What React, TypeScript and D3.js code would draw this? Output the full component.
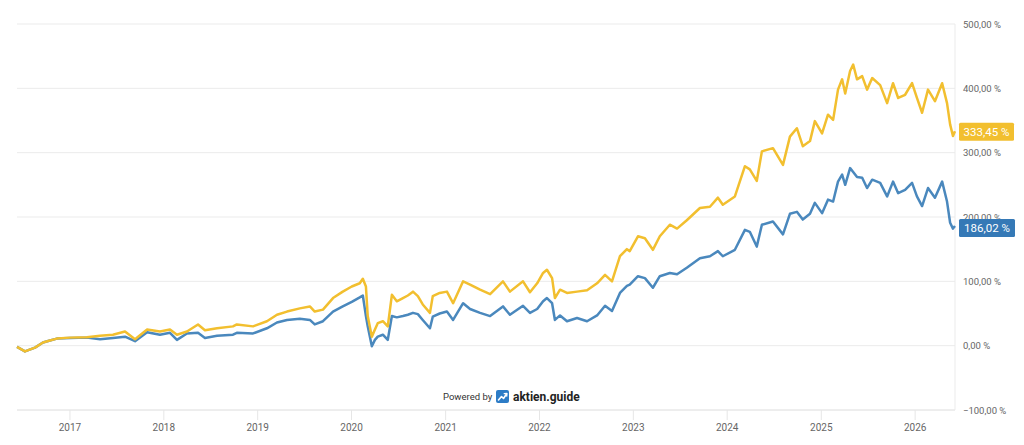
import React from 'react';
import * as d3 from 'd3';

const dates = [
  '2016-06-09', '2016-07-10', '2016-08-18', '2016-09-18', '2016-10-15', '2016-11-11',
  '2017-01-01', '2017-03-08', '2017-04-28', '2017-06-17', '2017-08-03', '2017-09-11',
  '2017-10-28', '2017-12-17', '2018-01-25', '2018-02-21', '2018-04-01', '2018-05-14',
  '2018-06-10', '2018-07-27', '2018-09-27', '2018-10-12', '2018-12-14', '2019-02-06',
  '2019-03-17', '2019-04-25', '2019-06-14', '2019-07-23', '2019-08-11', '2019-09-12',
  '2019-10-21', '2019-11-28', '2020-01-02', '2020-02-02', '2020-02-14', '2020-02-26',
  '2020-03-04', '2020-03-20', '2020-04-01', '2020-04-12', '2020-05-02', '2020-05-21',
  '2020-06-06', '2020-06-25', '2020-07-19', '2020-08-07', '2020-08-27', '2020-09-15',
  '2020-10-04', '2020-11-01', '2020-11-12', '2020-12-09', '2021-01-06', '2021-01-30',
  '2021-03-10', '2021-04-06', '2021-05-15', '2021-06-23', '2021-08-12', '2021-09-08',
  '2021-10-29', '2021-11-25', '2021-12-23', '2022-01-15', '2022-01-30', '2022-02-19',
  '2022-03-02', '2022-03-22', '2022-04-18', '2022-05-27', '2022-07-05', '2022-08-13',
  '2022-09-13', '2022-10-10', '2022-11-10', '2022-12-07', '2022-12-18', '2023-01-19',
  '2023-02-15', '2023-03-18', '2023-04-14', '2023-05-23', '2023-06-20', '2023-07-28',
  '2023-09-17', '2023-10-26', '2023-11-26', '2023-12-15', '2024-01-31', '2024-03-10',
  '2024-03-29', '2024-04-25', '2024-05-15', '2024-06-27', '2024-08-05', '2024-09-01',
  '2024-09-28', '2024-10-21', '2024-11-18', '2024-12-07', '2025-01-04', '2025-01-27',
  '2025-02-16', '2025-03-07', '2025-03-23', '2025-04-04', '2025-04-23', '2025-05-05',
  '2025-05-20', '2025-06-09', '2025-06-28', '2025-07-18', '2025-08-18', '2025-09-14',
  '2025-10-07', '2025-10-27', '2025-11-23', '2025-12-20', '2026-01-08', '2026-01-28',
  '2026-02-20', '2026-03-19', '2026-04-16', '2026-05-05', '2026-05-17', '2026-05-28',
  '2026-06-05',
];

// performance in %, yellow series
const goldValues = [
  -2, -9, -3, 5, 8, 11,
  12.5, 13, 15.5, 17, 22, 10,
  25, 22, 25, 17, 22, 33,
  24, 27, 30, 33, 30, 38,
  48, 53, 58, 61, 53, 56,
  74, 84, 92, 97, 104, 92,
  46, 14, 25, 35, 38, 30,
  79, 69, 74, 78, 84, 77,
  64, 51, 77, 82, 84, 66,
  100, 95, 87, 80, 100, 84,
  100, 83, 97, 113, 118, 105,
  74, 87, 82, 84, 86, 97,
  110, 100, 139, 150, 147, 170,
  167, 149, 170, 188, 182, 195,
  214, 216, 230, 219, 232, 279,
  274, 256, 302, 307, 281, 325,
  338, 310, 318, 349, 330, 359,
  351, 398, 414, 392, 427, 437,
  414, 419, 398, 416, 405, 377,
  408, 385, 390, 408, 385, 362,
  398, 380, 408, 377, 344, 326,
  333.45,
];

// performance in %, blue series
const blueValues = [
  -2, -9, -3, 5, 8, 11,
  12, 12.5, 10, 12, 14, 7,
  21, 17, 20, 9, 19, 20,
  12, 15.5, 17, 20, 19, 27,
  36, 40, 42, 40, 33, 38,
  53, 61, 68, 75, 78, 46,
  30, -1, 9, 14, 17, 9,
  46, 44, 46, 48, 51, 49,
  40, 27, 45, 50, 53, 40,
  66, 57, 51, 46, 61, 48,
  62, 51, 57, 69, 74, 66,
  40, 47, 38, 43, 38, 47,
  62, 54, 82, 93, 95, 108,
  105, 90, 108, 113, 111, 121,
  136, 139, 147, 139, 149, 180,
  177, 154, 188, 193, 173, 205,
  208, 196, 205, 222, 206, 227,
  224, 255, 266, 250, 276, 270,
  262, 261, 245, 258, 253, 232,
  255, 237, 242, 253, 232, 217,
  245, 230, 255, 224, 191, 182,
  186.02,
];

const yTicks = [-100, 0, 100, 200, 300, 400, 500];
const yearTicks = [2017, 2018, 2019, 2020, 2021, 2022, 2023, 2024, 2025, 2026];

const GOLD = '#f2bf2f';
const BLUE = '#4a88bd';
const FONT = 'Roboto, "Noto Sans", sans-serif';

const parse = d3.timeParse('%Y-%m-%d');
const fmt = (v: number) => d3.format('.2f')(v).replace('.', ',') + ' %';

export default function App() {
  const width = 1024;
  const height = 445;
  const left = 17;
  const right = 955;
  const top = 24;
  const bottom = 410;

  const parsed = dates.map((d) => parse(d) as Date);
  const x = d3.scaleTime()
    .domain([parsed[0], parsed[parsed.length - 1]])
    .range([left, right]);
  const y = d3.scaleLinear().domain([-100, 500]).range([bottom, top]);

  const line = d3.line<number>()
    .x((_, i) => x(parsed[i]))
    .y((v) => y(v));

  const lastGold = goldValues[goldValues.length - 1];
  const lastBlue = blueValues[blueValues.length - 1];

  return (
    <svg
      width={width}
      height={height}
      style={{ position: 'absolute', left: 0, top: 0, background: '#fff' }}
      fontFamily={FONT}
    >
      {/* grid */}
      {yTicks.map((t) => (
        <line key={t} x1={left} x2={right} y1={y(t)} y2={y(t)}
          stroke={t === -100 ? '#dcdcdc' : '#ebebeb'} strokeWidth={1} />
      ))}
      <line x1={right} x2={right} y1={top} y2={bottom} stroke="#ebebeb" />

      {/* x axis */}
      {yearTicks.map((yr) => {
        const xp = x(new Date(yr, 0, 1));
        return (
          <g key={yr}>
            <line x1={xp} x2={xp} y1={bottom} y2={bottom + 10} stroke="#e6e6e6" />
            <text x={xp} y={431} fontSize={10} fill="#666" textAnchor="middle">{yr}</text>
          </g>
        );
      })}

      {/* y axis labels */}
      {yTicks.map((t) => (
        <text key={t} x={963} y={y(t) + 3.5} fontSize={9.5} fill="#666">{fmt(t)}</text>
      ))}

      {/* series */}
      <path d={line(blueValues) || ''} fill="none" stroke={BLUE} strokeWidth={2.5} strokeLinejoin="round" />
      <path d={line(goldValues) || ''} fill="none" stroke={GOLD} strokeWidth={2.5} strokeLinejoin="round" />

      {/* end labels */}
      <g transform={`translate(959,${y(lastGold) - 8.5})`}>
        <rect width={55} height={18} rx={1.5} fill={GOLD} />
        <text x={27.5} y={13} fontSize={11.5} fill="#fff" textAnchor="middle">{fmt(lastGold)}</text>
      </g>
      <g transform={`translate(959,${y(lastBlue) - 7})`}>
        <rect width={56} height={18} rx={1.5} fill="#3579b6" />
        <text x={28} y={13} fontSize={11.5} fill="#fff" textAnchor="middle">{fmt(lastBlue)}</text>
      </g>

      {/* credits */}
      <text x={443} y={400} fontSize={9.5} fill="#333">Powered by</text>
      <g transform="translate(496,390)">
        <rect width={13} height={13} rx={2} fill="#2d7cc6" />
        <path d="M2.5 10 L5.5 6.5 L7.5 8.5 L10.5 4" fill="none" stroke="#fff" strokeWidth={1.6} strokeLinecap="round" strokeLinejoin="round" />
        <path d="M8.2 3.6 L10.9 3.4 L10.7 6.1" fill="none" stroke="#fff" strokeWidth={1.3} strokeLinecap="round" strokeLinejoin="round" />
      </g>
      <text x={513} y={401} fontSize={12} fontWeight="bold" fill="#222">aktien.guide</text>
    </svg>
  );
}
